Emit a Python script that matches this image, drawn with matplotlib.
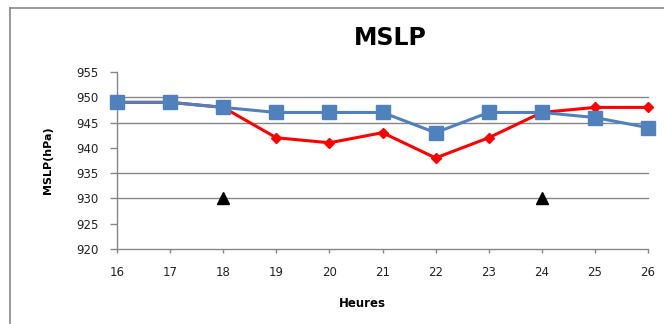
import matplotlib
matplotlib.use("Agg")
import matplotlib.pyplot as plt
from matplotlib.lines import Line2D

# hours of the day (x axis)
heures = [16, 17, 18, 19, 20, 21, 22, 23, 24, 25, 26]
# mean sea level pressure, hPa
mslp_obs = [949, 949, 948, 942, 941, 943, 938, 942, 947, 948, 948]
mslp_model = [949, 949, 948, 947, 947, 947, 943, 947, 947, 946, 944]
# analysis times
tri_x = [18, 24]
tri_y = [930, 930]

yticks = [920, 925, 930, 935, 940, 945, 950, 955]
grid_levels = [930, 935, 945, 950]

grey = "#878787"
blue = "#4F81BD"

fig = plt.figure(figsize=(6.64, 3.24), dpi=100)
ax = fig.add_axes([117 / 664, 1 - 249 / 324, 531 / 664, 177 / 324])

for g in grid_levels:
    ax.axhline(g, color=grey, lw=1.0, zorder=1)

ax.plot(heures, mslp_obs, color="red", lw=2.2, marker="D", ms=5.5,
        markeredgecolor="red", zorder=3)
ax.plot(heures, mslp_model, color=blue, lw=2.2, marker="s", ms=9.5,
        markeredgecolor=blue, zorder=4)
ax.plot(tri_x, tri_y, ls="none", marker="^", ms=8, color="black", zorder=5)

ax.set_xlim(16, 26)
ax.set_ylim(920, 955)
ax.set_xticks(heures)
ax.set_yticks(yticks)
ax.tick_params(axis="both", colors=grey, labelcolor="#222222", labelsize=8.5,
               width=1)
ax.tick_params(axis="x", length=3, pad=9)
ax.tick_params(axis="y", length=5, pad=8)
for side in ["top", "right"]:
    ax.spines[side].set_visible(False)
for side in ["left", "bottom"]:
    ax.spines[side].set_color(grey)
    ax.spines[side].set_linewidth(1.0)
for ln in ax.lines:
    ln.set_clip_on(False)

ax.set_xlabel("Heures", fontsize=8.5, fontweight="bold")
ax.xaxis.set_label_coords((362 - 117) / 531, -(297 - 249) / 177)
ax.set_ylabel("MSLP(hPa)", fontsize=8, fontweight="bold")
ax.yaxis.set_label_coords(-(117 - 53) / 531, 0.5)
fig.text(390 / 664, 1 - 38 / 324, "MSLP", fontsize=17, fontweight="bold",
         ha="center", va="center")

# chart area frame (only the left and top edges fall inside the image)
fig.add_artist(Line2D([10 / 664, 10 / 664], [0, 1 - 8 / 324],
                      transform=fig.transFigure, color=grey, lw=1.2))
fig.add_artist(Line2D([10 / 664, 1], [1 - 8 / 324, 1 - 8 / 324],
                      transform=fig.transFigure, color=grey, lw=1.2))

fig.savefig("out.png", dpi=100)
